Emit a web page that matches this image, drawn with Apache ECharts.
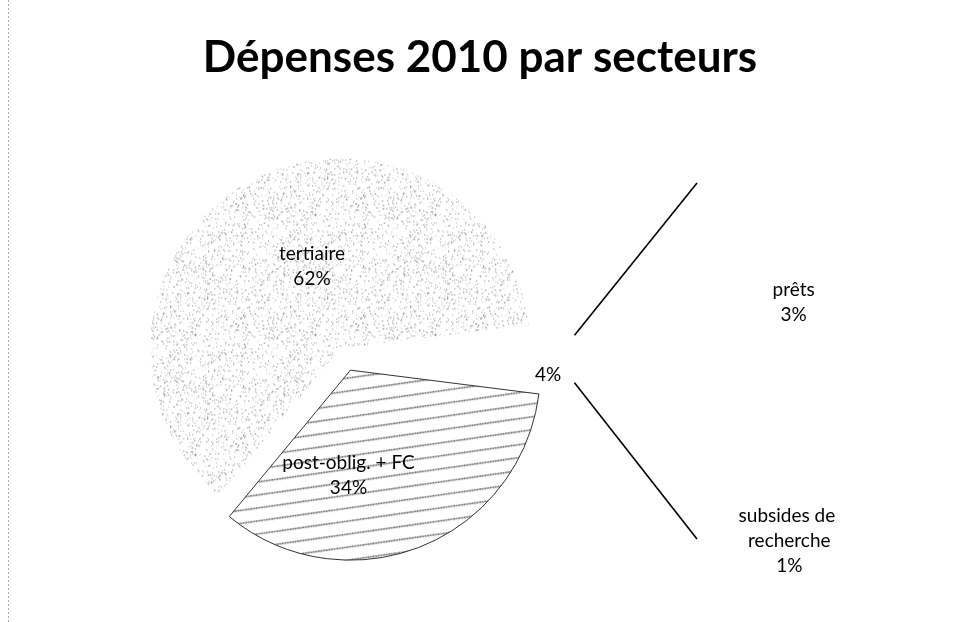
<!DOCTYPE html>
<html><head><meta charset="utf-8">
<script src="https://cdn.jsdelivr.net/npm/echarts@6/dist/echarts.min.js"></script>
<style>html,body{margin:0;padding:0;background:#fff}#c{width:960px;height:622px}</style>
</head><body><div id="c"></div>
<script>
// ---- data ----
const titleText = 'Dépenses 2010 par secteurs';
const mainCategories = ['tertiaire', 'post-oblig. + FC'];
const mainValues = [62, 34];
const otherCategories = ['prêts', 'subsides de recherche'];
const otherValues = [3, 1];

// ---- geometry / style ----
const FONT = 'Lato, "Open Sans", sans-serif';
const MAIN_C = [346, 359], MAIN_R = 190, EXPLODE = 12;
const SEC_C = [697, 361], SEC_R = 178;
const CONNECT_GAP = 40;

const otherTotal = otherValues.reduce((a, b) => a + b, 0);
const mainTotal = mainValues.reduce((a, b) => a + b, 0) + otherTotal;
const halfOther = otherTotal / mainTotal * 360 / 2;

// stipple pattern (deterministic)
function stipple() {
  const s = 120, cv = document.createElement('canvas'); cv.width = cv.height = s;
  const ctx = cv.getContext('2d'); const img = ctx.createImageData(s, s);
  let seed = 12345; const rnd = () => (seed = (seed * 1103515245 + 12345) & 0x7fffffff) / 0x7fffffff;
  for (let i = 0; i < s * s; i++) {
    if (rnd() < 0.08) { const g = 110 + Math.floor(rnd() * 100);
      img.data[i*4] = g; img.data[i*4+1] = g; img.data[i*4+2] = g; img.data[i*4+3] = 255; }
  }
  ctx.putImageData(img, 0, 0); return cv;
}
// slanted dotted hatch
function hatch() {
  const W = 91, H = 13, cv = document.createElement('canvas'); cv.width = W; cv.height = H;
  const ctx = cv.getContext('2d'); ctx.fillStyle = '#fff'; ctx.fillRect(0, 0, W, H);
  ctx.fillStyle = '#555';
  for (let x = 0; x < W; x += 2.6) {
    const y = H - x * H / W;
    for (const oy of [-H, 0, H]) { ctx.beginPath(); ctx.arc(x, y + oy, 0.95, 0, Math.PI * 2); ctx.fill(); }
  }
  return cv;
}
const fillTert = { image: stipple(), repeat: 'repeat' };
const fillPost = { image: hatch(), repeat: 'repeat' };

const mainStyles = [
  { color: fillTert, borderWidth: 0 },
  { color: fillPost, borderColor: '#333', borderWidth: 1 }
];
const mainShift = [[19, 4], [-38, 14]];
const mainData = [{ name: '', value: otherTotal, itemStyle: { color: 'rgba(0,0,0,0)', borderWidth: 0 },
  label: { position: 'outside', formatter: p => p.value + '%' }, labelLine: { show: false, length: 0, length2: 0 } }];
for (let i = mainCategories.length - 1; i >= 0; i--) {
  mainData.push({ name: mainCategories[i], value: mainValues[i], selected: true,
    itemStyle: mainStyles[i], select: { itemStyle: mainStyles[i] }, emphasis: { itemStyle: mainStyles[i] } });
}
const mainShiftByIndex = [[-6, 16]].concat(mainShift.slice().reverse());

const secShift = [[137, 24], [52, 97]];
const secData = otherCategories.map((n, i) => ({ name: n, value: otherValues[i],
  itemStyle: { color: 'rgba(0,0,0,0)', borderWidth: 0 } }));
const secStart = -19 + otherValues[0] / otherTotal * 360;

// connectors
const a = halfOther * Math.PI / 180;
const cx = MAIN_C[0] + MAIN_R * Math.cos(a) + CONNECT_GAP;
const line = (x1, y1, x2, y2) => ({ type: 'line', silent: true, shape: { x1, y1, x2, y2 },
  style: { stroke: '#000', lineWidth: 1.6 } });

const labelText = { color: '#000', fontFamily: FONT, fontSize: 19, lineHeight: 25 };

const chart = echarts.init(document.getElementById('c'), null, { renderer: 'canvas' });
chart.setOption({
  backgroundColor: '#fff',
  animation: false,
  title: { text: titleText, left: 'center', top: 31,
    textStyle: { fontFamily: FONT, fontWeight: 'bold', fontSize: 44, color: '#000' } },
  graphic: [
    line(cx, MAIN_C[1] - MAIN_R * Math.sin(a), SEC_C[0], SEC_C[1] - SEC_R),
    line(cx, MAIN_C[1] + MAIN_R * Math.sin(a), SEC_C[0], SEC_C[1] + SEC_R),
    { type: 'line', silent: true, shape: { x1: 8.5, y1: 0, x2: 8.5, y2: 622 },
      style: { stroke: '#aaa', lineWidth: 1, lineDash: [2, 2] } }
  ],
  series: [
    { type: 'pie', center: MAIN_C, radius: MAIN_R, startAngle: halfOther, clockwise: true,
      selectedMode: 'multiple', selectedOffset: EXPLODE, avoidLabelOverlap: false,
      emphasis: { disabled: true }, silent: true,
      label: { show: true, position: 'inside', formatter: p => p.name + '\n' + p.value + '%', ...labelText },
      labelLine: { show: false },
      labelLayout: p => ({ dx: mainShiftByIndex[p.dataIndex][0], dy: mainShiftByIndex[p.dataIndex][1] }),
      data: mainData },
    { type: 'pie', center: SEC_C, radius: SEC_R, startAngle: secStart, clockwise: true,
      avoidLabelOverlap: false, emphasis: { disabled: true }, silent: true,
      label: { show: true, position: 'inside', width: 120, overflow: 'break', align: 'center',
        formatter: p => p.name + '\n' + p.value + '%', ...labelText },
      labelLine: { show: false },
      labelLayout: p => ({ dx: secShift[p.dataIndex][0], dy: secShift[p.dataIndex][1] }),
      data: secData }
  ]
});
</script></body></html>
